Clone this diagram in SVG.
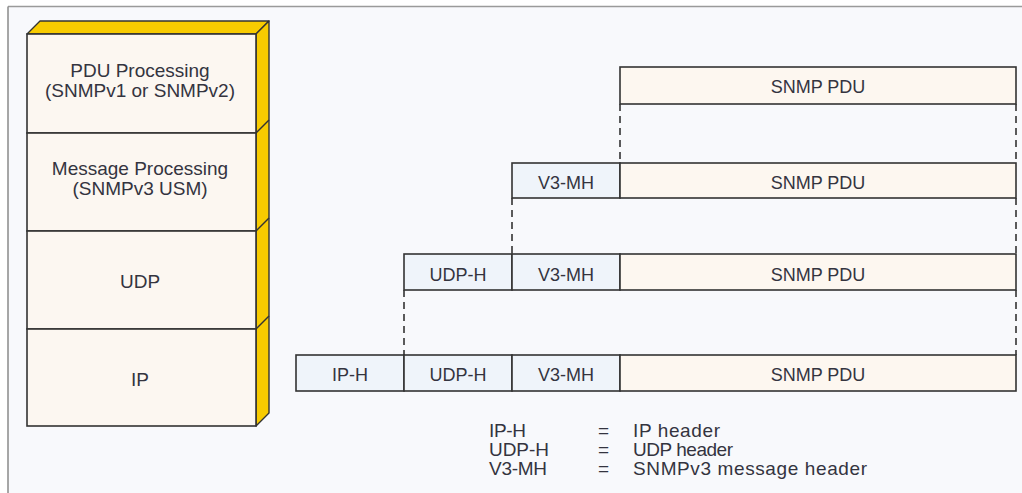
<svg xmlns="http://www.w3.org/2000/svg" width="1022" height="493" viewBox="0 0 1022 493">
  <style>
    text { font-family: "Liberation Sans", Arial, sans-serif; fill: #34343f; }
    .lbl { font-size: 18px; text-anchor: middle; }
    .stk { font-size: 19px; text-anchor: middle; }
    .leg { font-size: 19px; }
    .face { fill: #fcf7f1; stroke: #333; stroke-width: 1.6; }
    .gold { fill: #f8cb00; stroke: #333; stroke-width: 1.4; stroke-linejoin: round; }
    .hdr { fill: #eff4fa; stroke: #333; stroke-width: 1.6; }
    .pdu { fill: #fdf7f0; stroke: #333; stroke-width: 1.6; }
    .dash { stroke: #333; stroke-width: 1.6; stroke-dasharray: 7 5; fill: none; }
  </style>

  <!-- page frame -->
  <rect x="0" y="0" width="1022" height="493" fill="#ffffff"/>
  <rect x="8" y="7" width="1014" height="486" fill="#f8f9fc"/>
  <line x1="8" y1="6.5" x2="1022" y2="6.5" stroke="#9a9a9a" stroke-width="1.5"/>
  <line x1="8" y1="6.5" x2="8" y2="493" stroke="#8a8a8a" stroke-width="1.5"/>

  <!-- protocol stack (3D block) -->
  <g id="stack">
    <polygon class="gold" points="27,34 40,21 269,21 256,34"/>
    <polygon class="gold" points="256,34 269,21 269,413 256,426"/>
    <line x1="256" y1="133" x2="269" y2="120" stroke="#333" stroke-width="1.4"/>
    <line x1="256" y1="231" x2="269" y2="218" stroke="#333" stroke-width="1.4"/>
    <line x1="256" y1="329" x2="269" y2="316" stroke="#333" stroke-width="1.4"/>
  </g>

  <g id="layer-pdu">
    <rect class="face" x="27" y="34" width="229" height="99"/>
    <text class="stk" x="140" y="77">PDU Processing</text>
    <text class="stk" x="140" y="97">(SNMPv1 or SNMPv2)</text>
  </g>
  <g id="layer-msg">
    <rect class="face" x="27" y="133" width="229" height="98"/>
    <text class="stk" x="140" y="175">Message Processing</text>
    <text class="stk" x="140" y="195">(SNMPv3 USM)</text>
  </g>
  <g id="layer-udp">
    <rect class="face" x="27" y="231" width="229" height="98"/>
    <text class="stk" x="140" y="288">UDP</text>
  </g>
  <g id="layer-ip">
    <rect class="face" x="27" y="329" width="229" height="97"/>
    <text class="stk" x="140" y="386">IP</text>
  </g>

  <!-- encapsulation rows -->
  <g id="row1">
    <rect class="pdu" x="620" y="67" width="396" height="37"/>
    <text class="lbl" x="818" y="93">SNMP PDU</text>
  </g>
  <g id="row2">
    <rect class="hdr" x="512" y="163" width="108" height="35"/>
    <text class="lbl" x="566" y="189">V3-MH</text>
    <rect class="pdu" x="620" y="163" width="396" height="35"/>
    <text class="lbl" x="818" y="189">SNMP PDU</text>
  </g>
  <g id="row3">
    <rect class="hdr" x="404" y="254" width="108" height="36"/>
    <text class="lbl" x="458" y="281">UDP-H</text>
    <rect class="hdr" x="512" y="254" width="108" height="36"/>
    <text class="lbl" x="566" y="281">V3-MH</text>
    <rect class="pdu" x="620" y="254" width="396" height="36"/>
    <text class="lbl" x="818" y="281">SNMP PDU</text>
  </g>
  <g id="row4">
    <rect class="hdr" x="296" y="355" width="108" height="36"/>
    <text class="lbl" x="350" y="381">IP-H</text>
    <rect class="hdr" x="404" y="355" width="108" height="36"/>
    <text class="lbl" x="458" y="381">UDP-H</text>
    <rect class="hdr" x="512" y="355" width="108" height="36"/>
    <text class="lbl" x="566" y="381">V3-MH</text>
    <rect class="pdu" x="620" y="355" width="396" height="36"/>
    <text class="lbl" x="818" y="381">SNMP PDU</text>
  </g>

  <!-- dashed projection lines between rows -->
  <g id="connectors">
    <line class="dash" x1="620" y1="104" x2="620" y2="163"/>
    <line class="dash" x1="1016" y1="104" x2="1016" y2="163"/>
    <line class="dash" x1="512" y1="198" x2="512" y2="254"/>
    <line class="dash" x1="1016" y1="198" x2="1016" y2="254"/>
    <line class="dash" x1="404" y1="290" x2="404" y2="355"/>
    <line class="dash" x1="1016" y1="290" x2="1016" y2="355"/>
  </g>

  <!-- legend -->
  <g id="legend">
    <text class="leg" x="489" y="437" textLength="37">IP-H</text>
    <text class="leg" x="598" y="437">=</text>
    <text class="leg" x="633" y="437" textLength="87">IP header</text>
    <text class="leg" x="489" y="456" textLength="60">UDP-H</text>
    <text class="leg" x="598" y="456">=</text>
    <text class="leg" x="633" y="456" textLength="100">UDP header</text>
    <text class="leg" x="489" y="475" textLength="58">V3-MH</text>
    <text class="leg" x="598" y="475">=</text>
    <text class="leg" x="633" y="475" textLength="234">SNMPv3 message header</text>
  </g>
</svg>
